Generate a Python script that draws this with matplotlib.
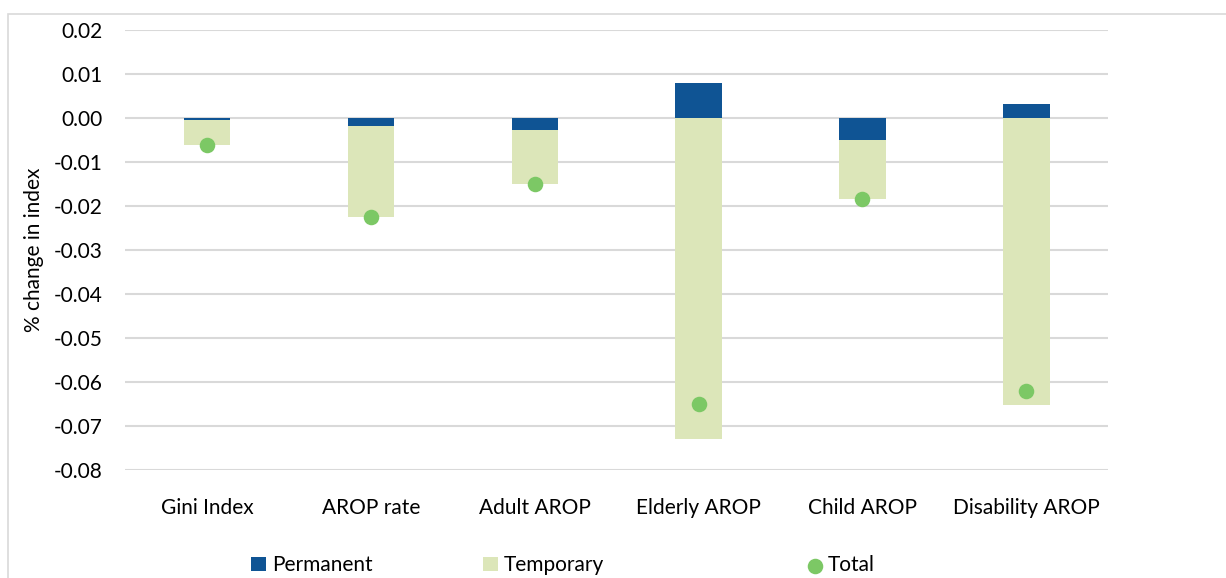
import numpy as np
import matplotlib
matplotlib.use("Agg")
import matplotlib.pyplot as plt
from matplotlib.patches import Rectangle

plt.rcParams['font.family'] = ['Lato', 'DejaVu Sans']

categories = ["Gini Index", "AROP rate", "Adult AROP", "Elderly AROP", "Child AROP", "Disability AROP"]
permanent = [-0.0005, -0.0019, -0.0027, 0.0079, -0.0050, 0.0033]
temporary = [-0.0056, -0.0206, -0.0124, -0.0730, -0.0135, -0.0653]
total = [-0.0061, -0.0225, -0.0151, -0.0651, -0.0184, -0.0620]
yticks = [0.02, 0.01, 0.00, -0.01, -0.02, -0.03, -0.04, -0.05, -0.06, -0.07, -0.08]

perm = np.array(permanent)
temp = np.array(temporary)
# excel-style stacking: negatives stack on negatives, positives on positives
temp_bottom = np.where((perm < 0) & (temp < 0), perm, np.where((perm > 0) & (temp > 0), perm, 0))

fig = plt.figure(figsize=(12.26, 5.78), dpi=100)
ax = fig.add_axes([0.102, 0.187, 0.802, 0.761])

# chart border (light gray frame like excel)
fig.patches.append(Rectangle((8 / 1226, -0.1), 1.2, (578 - 14) / 578 + 0.1,
                             transform=fig.transFigure, fill=False,
                             edgecolor="#d9d9d9", linewidth=1.2))

x = np.arange(len(categories))
w = 0.283
b1 = ax.bar(x, perm, w, color="#0f5494", label="Permanent", zorder=3)
b2 = ax.bar(x, temp, w, bottom=temp_bottom, color="#dce6b9", label="Temporary", zorder=3)
sc = ax.scatter(x, total, s=125, color="#7cc865", label="Total", zorder=4, linewidths=0)

ax.set_ylim(-0.08, 0.02)
ax.set_xlim(-0.5, len(categories) - 0.5)
ax.set_yticks(yticks)
ax.set_yticklabels([f"{v:.2f}" for v in yticks])
ax.set_xticks(x)
ax.set_xticklabels(categories)
ax.tick_params(axis="both", length=0, labelsize=15, colors="#000000")
ax.tick_params(axis="x", pad=20)
ax.tick_params(axis="y", pad=16)
ax.grid(axis="y", color="#d9d9d9", linewidth=1.5, zorder=0)
for s in ax.spines.values():
    s.set_visible(False)
ax.set_ylabel("% change in index", fontsize=15, labelpad=7)

# legend entries placed like excel's fixed-width legend slots
for h, lab, xpos in [(b1, "Permanent", 245), (b2, "Temporary", 477), (sc, "Total", 801)]:
    fig.legend([h], [lab], loc="center left", bbox_to_anchor=(xpos / 1226, 0.022),
               frameon=False, fontsize=15, handlelength=0.7, handleheight=0.7,
               handletextpad=0.3, borderaxespad=0, borderpad=0.3)

fig.savefig("out.png", dpi=100)
